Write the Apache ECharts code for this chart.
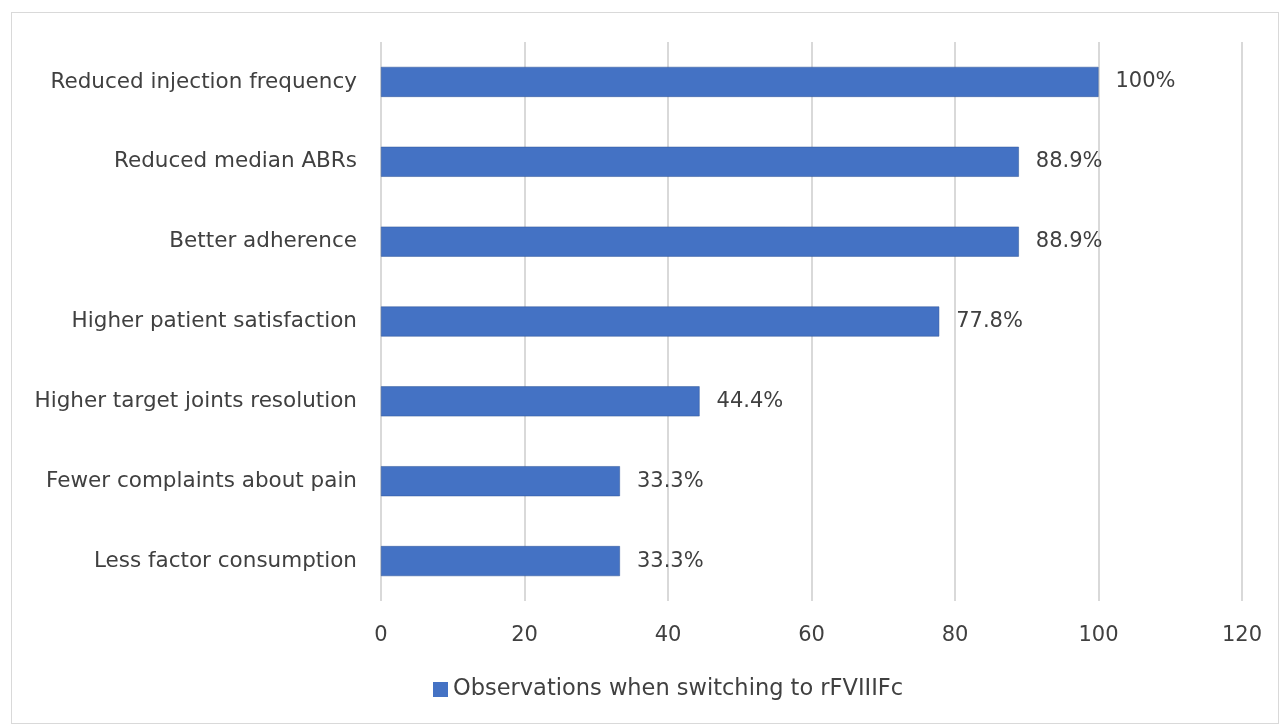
<!DOCTYPE html>
<html>
<head>
<meta charset="utf-8">
<script src="https://cdn.jsdelivr.net/npm/echarts@6/dist/echarts.min.js"></script>
<style>
html,body{margin:0;padding:0;background:#fff;}
#frame{position:absolute;left:11px;top:12px;width:1268px;height:712px;border:1.5px solid #d9d9d9;box-sizing:border-box;}
#chart{position:absolute;left:0;top:0;width:1282px;height:726px;}
</style>
</head>
<body>
<div id="frame"></div>
<div id="chart"></div>
<script>
const categories = [
  "Reduced injection frequency",
  "Reduced median ABRs",
  "Better adherence",
  "Higher patient satisfaction",
  "Higher target joints resolution",
  "Fewer complaints about pain",
  "Less factor consumption"
];
const values = [100, 88.9, 88.9, 77.8, 44.4, 33.3, 33.3];
const valueLabels = ["100%", "88.9%", "88.9%", "77.8%", "44.4%", "33.3%", "33.3%"];
const seriesName = "Observations when switching to rFVIIIFc";

const font = "'DejaVu Sans', sans-serif";
const chart = echarts.init(document.getElementById('chart'));
chart.setOption({
  animation: false,
  textStyle: {fontFamily: font},
  grid: {left: 381, right: 40, top: 42, bottom: 125, containLabel: false},
  legend: {
    bottom: 20, left: 428,
    itemWidth: 15, itemHeight: 15, itemGap: 8,
    itemStyle: {borderWidth: 0},
    textStyle: {fontSize: 22.5, color: '#404040', fontFamily: font},
    data: [{name: seriesName, icon: 'rect'}]
  },
  xAxis: {
    type: 'value', min: 0, max: 120, interval: 20,
    axisLine: {show: false}, axisTick: {show: false},
    splitLine: {lineStyle: {color: '#d9d9d9', width: 2}},
    axisLabel: {fontSize: 21, color: '#404040', margin: 24}
  },
  yAxis: {
    type: 'category', inverse: true, data: categories,
    axisLine: {show: false}, axisTick: {show: false},
    axisLabel: {fontSize: 21.5, color: '#404040', margin: 24}
  },
  series: [{
    name: seriesName, type: 'bar', data: values, barWidth: 30,
    itemStyle: {color: '#4472C4', borderColor: '#2f5597', borderWidth: 0.5},
    label: {
      show: true, position: 'right', distance: 17,
      fontSize: 21, color: '#404040',
      formatter: p => valueLabels[p.dataIndex]
    }
  }]
});
</script>
</body>
</html>
